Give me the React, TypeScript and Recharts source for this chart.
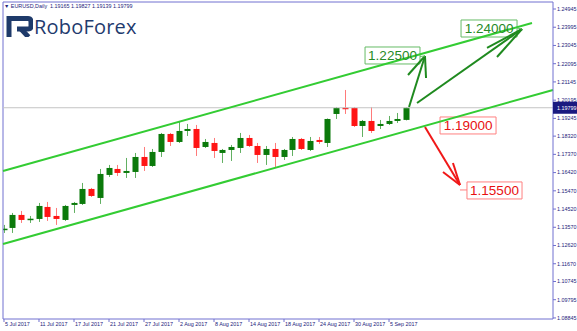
import React from 'react';
import { ComposedChart, Bar, XAxis, YAxis, ReferenceLine, ReferenceArea } from 'recharts';

// ---- data ----
const opens = [1.13431, 1.13535, 1.14213, 1.13952, 1.14004, 1.14629, 1.1416, 1.13952, 1.14734, 1.14786, 1.15567, 1.15098, 1.16297, 1.16609, 1.16401, 1.16453, 1.17234, 1.16765, 1.17495, 1.18433, 1.18016, 1.18589, 1.18693, 1.17755, 1.17964, 1.17443, 1.17599, 1.17703, 1.18224, 1.17807, 1.17339, 1.17651, 1.17234, 1.17599, 1.18172, 1.17599, 1.1812, 1.17964, 1.19475, 1.19787, 1.19787, 1.18849, 1.1911, 1.18849, 1.18954, 1.1911, 1.19165];
const highs = [1.13692, 1.14317, 1.14421, 1.1416, 1.14838, 1.1489, 1.14577, 1.14734, 1.1489, 1.1588, 1.1562, 1.16609, 1.16818, 1.16818, 1.17182, 1.17443, 1.17755, 1.17651, 1.18485, 1.18485, 1.1911, 1.18954, 1.18902, 1.18172, 1.18224, 1.17651, 1.1786, 1.18485, 1.18381, 1.17964, 1.17807, 1.17964, 1.17651, 1.18276, 1.18224, 1.18276, 1.18276, 1.1924, 1.19839, 1.20725, 1.19839, 1.19162, 1.19839, 1.19162, 1.1937, 1.19527, 1.19827];
const lows = [1.13275, 1.13275, 1.13796, 1.13796, 1.13848, 1.139, 1.13692, 1.139, 1.14317, 1.14734, 1.1515, 1.14786, 1.16192, 1.16244, 1.1614, 1.1614, 1.16505, 1.16713, 1.17234, 1.17807, 1.17964, 1.18328, 1.17286, 1.17703, 1.17182, 1.16922, 1.17026, 1.17443, 1.17755, 1.16922, 1.16818, 1.16713, 1.17078, 1.17286, 1.17599, 1.17547, 1.17912, 1.17755, 1.19214, 1.19475, 1.18797, 1.18276, 1.18485, 1.18693, 1.18902, 1.19006, 1.19139];
const closes = [1.13483, 1.14213, 1.13952, 1.14004, 1.14681, 1.14108, 1.14004, 1.14681, 1.14838, 1.15567, 1.15202, 1.16349, 1.16661, 1.16401, 1.16505, 1.17234, 1.16765, 1.17495, 1.18433, 1.18016, 1.18589, 1.18693, 1.17703, 1.18016, 1.17547, 1.17599, 1.17755, 1.18224, 1.17807, 1.17339, 1.17651, 1.17234, 1.17599, 1.18172, 1.17651, 1.18068, 1.18016, 1.19214, 1.19787, 1.19735, 1.18849, 1.1911, 1.18589, 1.18954, 1.1911, 1.19214, 1.19799];

const dateTicks = [0, 4, 8, 12, 16, 20, 24, 28, 32, 36, 40, 44];
const dateLabels = ['5 Jul 2017', '11 Jul 2017', '17 Jul 2017', '21 Jul 2017', '27 Jul 2017', '2 Aug 2017', '8 Aug 2017', '14 Aug 2017', '18 Aug 2017', '24 Aug 2017', '30 Aug 2017', '5 Sep 2017'];
const priceTicks = [1.24945, 1.23995, 1.23045, 1.22095, 1.21145, 1.20195, 1.19799, 1.19245, 1.1832, 1.1737, 1.1642, 1.1547, 1.1452, 1.1357, 1.1262, 1.1167, 1.10745, 1.09795, 1.08845];
const lastPrice = 1.19799;
const xDomain = [-0.114, 62.74];
const yDomain = [1.0879, 1.2531];

// channel lines [x1, y1, x2, y2] in bar-index / price units
const channelLines = [
  [-0.114, 1.16505, 60.34, 1.24216],
  [-0.114, 1.12702, 62.74, 1.20725],
];
// arrows: shaft + two head strokes, each [x1, y1, x2, y2]
const greenArrowSegments = [
  [46.29, 1.19839, 48.11, 1.22496],
  [48.11, 1.22496, 46.17, 1.21506],
  [48.11, 1.22496, 48.23, 1.2135],
  [47.2, 1.20047, 59.2, 1.23903],
  [59.2, 1.23903, 55.2, 1.22913],
  [59.2, 1.23903, 56.34, 1.22444],
];
const redArrowSegments = [
  [48.11, 1.18797, 52.11, 1.15776],
  [52.11, 1.15776, 50.17, 1.16453],
  [52.11, 1.15776, 51.31, 1.16922],
];
const connectorSegments = [
  { seg: [47.54, 1.2247, 48.11, 1.22496], kind: 'up' },
  { seg: [58.63, 1.23955, 59.2, 1.23903], kind: 'up' },
  { seg: [52.11, 1.15515, 52.91, 1.15515], kind: 'down' },
];
// target boxes: label, x1, x2, y1, y2
const targets = [
  { text: '1.22500', x1: 41.26, x2: 47.54, y1: 1.2208, y2: 1.22965, kind: 'up' },
  { text: '1.24000', x1: 52.23, x2: 58.63, y1: 1.23486, y2: 1.24372, kind: 'up' },
  { text: '1.19000', x1: 49.83, x2: 56.23, y1: 1.18433, y2: 1.19318, kind: 'down' },
  { text: '1.15500', x1: 52.91, x2: 59.2, y1: 1.15046, y2: 1.15932, kind: 'down' },
];

const data = opens.map((o, i) => ({
  i,
  o,
  h: highs[i],
  l: lows[i],
  c: closes[i],
  range: [lows[i], highs[i]],
}));

const AXIS = '#7070d0';
const TXT = '#22227a';
const FONT = '"Liberation Sans", Arial, sans-serif';

const Candle = (props: any) => {
  const { x, y, width, height, payload } = props;
  if (x == null || y == null || !payload) return null;
  const { o, h, l, c } = payload;
  const top = Math.min(y, y + height);
  const hh = Math.abs(height);
  const k = hh / (h - l);
  const py = (v: number) => top + (h - v) * k;
  const up = c >= o;
  const cx = Math.round(x + width / 2) + 0.5;
  const bodyColor = up ? '#0b7a0b' : '#ff1414';
  const wickColor = up ? '#62b062' : '#ff7a7a';
  const bt = py(Math.max(o, c));
  const bb = py(Math.min(o, c));
  const bh = bb - bt;
  return (
    <g>
      <line x1={cx} x2={cx} y1={py(h)} y2={py(l)} stroke={wickColor} strokeWidth={1} />
      {bh < 1.5 ? (
        <line x1={cx - 3} x2={cx + 3} y1={(bt + bb) / 2} y2={(bt + bb) / 2} stroke={bodyColor} strokeWidth={1.5} />
      ) : (
        <rect x={cx - 3} y={bt} width={6} height={bh} fill={bodyColor} />
      )}
    </g>
  );
};

const XTick = (props: any) => {
  const { x, y, payload } = props;
  const idx = dateTicks.indexOf(payload.value);
  return (
    <text x={x + 1} y={y} dy="0.71em" fontSize={5.4} fill={TXT} fontFamily={FONT} textAnchor="start">
      {dateLabels[idx]}
    </text>
  );
};

const YTick = (props: any) => {
  const { x, y, payload } = props;
  const v = payload.value;
  const label = v.toFixed(5);
  if (Math.abs(v - lastPrice) < 1e-7) {
    return (
      <g>
        <rect x={x - 4} y={y - 6} width={28} height={12} fill="#1a1a80" />
        <text x={x} y={y} dy="0.35em" fontSize={5.4} fill="#ffffff" fontFamily={FONT} textAnchor="start">
          {label}
        </text>
      </g>
    );
  }
  return (
    <text x={x} y={y} dy="0.35em" fontSize={5.4} fill={TXT} fontFamily={FONT} textAnchor="start">
      {label}
    </text>
  );
};

const seg = (s: number[]) => [
  { x: s[0], y: s[1] },
  { x: s[2], y: s[3] },
];

const Logo = () => (
  <div style={{ position: 'absolute', left: 6, top: 16, display: 'flex', alignItems: 'center' }}>
    <svg width={27} height={21} viewBox="0 0 27 21">
      <path d="M3 21 V2.5 H22 Q25 2.5 25 6 V10 Q25 13 22 13 H11" fill="none" stroke="#1e3a6a" strokeWidth={5} />
      <path d="M15 13 L22.5 21" fill="none" stroke="#1e3a6a" strokeWidth={5} />
    </svg>
    <span
      style={{
        fontFamily: '"Open Sans", sans-serif',
        fontSize: 20,
        color: '#1f3b6e',
        marginLeft: 1,
        lineHeight: '21px',
        letterSpacing: 0.2,
      }}
    >
      RoboForex
    </span>
  </div>
);

export default function App() {
  return (
    <div style={{ position: 'fixed', left: 0, top: 0, width: 577, height: 331, background: '#fff' }}>
      <ComposedChart
        width={577}
        height={331}
        data={data}
        margin={{ top: 2, right: 0, bottom: 0, left: 3 }}
      >
        <XAxis
          dataKey="i"
          type="number"
          domain={xDomain}
          allowDataOverflow
          ticks={dateTicks}
          tick={<XTick />}
          tickSize={3}
          tickMargin={0}
          tickLine={{ stroke: AXIS }}
          axisLine={{ stroke: AXIS }}
          height={12}
          interval={0}
        />
        <YAxis
          orientation="right"
          type="number"
          domain={yDomain}
          allowDataOverflow
          ticks={priceTicks}
          tick={<YTick />}
          tickSize={3}
          tickMargin={1}
          tickLine={{ stroke: AXIS }}
          axisLine={{ stroke: AXIS }}
          width={24}
          interval={0}
        />
        <ReferenceLine y={yDomain[1]} stroke={AXIS} strokeWidth={1} />
        <ReferenceLine x={xDomain[0]} stroke={AXIS} strokeWidth={1} />
        <ReferenceLine y={lastPrice} stroke="#c4c4c4" strokeWidth={1} />
        {channelLines.map((s, k) => (
          <ReferenceLine key={'ch' + k} segment={seg(s)} stroke="#33cc33" strokeWidth={2} ifOverflow="visible" />
        ))}
        <Bar dataKey="range" shape={<Candle />} barSize={6} isAnimationActive={false} />
        {greenArrowSegments.map((s, k) => (
          <ReferenceLine key={'ga' + k} segment={seg(s)} stroke="#1f8a1f" strokeWidth={2} ifOverflow="visible" />
        ))}
        {redArrowSegments.map((s, k) => (
          <ReferenceLine key={'ra' + k} segment={seg(s)} stroke="#f01818" strokeWidth={2} ifOverflow="visible" />
        ))}
        {connectorSegments.map((cs, k) => (
          <ReferenceLine
            key={'cn' + k}
            segment={seg(cs.seg)}
            stroke={cs.kind === 'up' ? '#66bb66' : '#ff8080'}
            strokeWidth={1}
            ifOverflow="visible"
          />
        ))}
        {targets.map((t, k) => (
          <ReferenceArea
            key={'t' + k}
            x1={t.x1}
            x2={t.x2}
            y1={t.y1}
            y2={t.y2}
            fill="#ffffff"
            fillOpacity={1}
            stroke={t.kind === 'up' ? '#66bb66' : '#ff8080'}
            strokeWidth={1}
            ifOverflow="visible"
            label={{
              value: t.text,
              position: 'center',
              fill: t.kind === 'up' ? '#268a26' : '#e81010',
              fontSize: 13.5,
              fontFamily: FONT,
            }}
          />
        ))}
      </ComposedChart>
      <div
        style={{
          position: 'absolute',
          left: 4,
          top: 2,
          fontFamily: FONT,
          fontSize: 5.4,
          color: TXT,
          whiteSpace: 'pre',
          lineHeight: '8px',
        }}
      >
        {'\u25BC EURUSD,Daily  1.19165 1.19827 1.19139 1.19799'}
      </div>
      <Logo />
    </div>
  );
}
